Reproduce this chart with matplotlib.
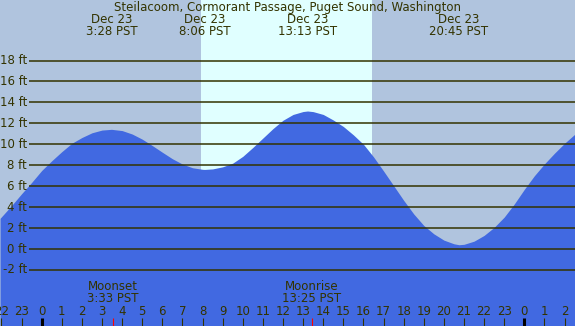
# -*- coding: utf-8 -*-
"""
Tide chart: Steilacoom, Cormorant Passage
"""

import matplotlib.pyplot as plt
import numpy as np

plt.rcParams['font.family'] = ['DejaVu Sans']

# ========== data ==========
title = 'Steilacoom, Cormorant Passage, Puget Sound, Washington'

# tide height (ft) vs hour of Dec 23 (negative = Dec 22, >24 = Dec 24)
tide_hours = [-2.07, -2.0, -1.5, -1.0, -0.5, 0.0, 0.5, 1.0, 1.5, 2.0, 2.5, 3.0,
              3.47, 4.0, 4.5, 5.0, 5.5, 6.0, 6.5, 7.0, 7.5, 8.0, 8.1, 8.5,
              9.0, 9.5, 10.0, 10.5, 11.0, 11.5, 12.0, 12.5, 13.0, 13.22, 13.5,
              14.0, 14.5, 15.0, 15.5, 16.0, 16.5, 17.0, 17.5, 18.0, 18.5, 19.0,
              19.5, 20.0, 20.5, 20.75, 21.0, 21.5, 22.0, 22.5, 23.0, 23.5,
              24.0, 24.5, 25.0, 25.5, 26.0, 26.52]
tide_ft = [2.93, 3.08, 4.15, 5.28, 6.36, 7.5, 8.43, 9.3, 10.1, 10.65, 11.1, 11.36,
           11.43, 11.31, 10.98, 10.49, 9.88, 9.24, 8.62, 8.11, 7.76, 7.61, 7.6, 7.65,
           7.85, 8.2, 8.85, 9.7, 10.6, 11.5, 12.3, 12.85, 13.13, 13.18, 13.12,
           12.85, 12.32, 11.7, 10.9, 10.0, 8.8, 7.45, 6.05, 4.65, 3.35, 2.25,
           1.45, 0.85, 0.5, 0.41, 0.45, 0.75, 1.3, 2.07, 3.05, 4.3,
           5.7, 7.0, 8.13, 9.15, 10.1, 10.98]

# high / low tide labels on top
tide_event_dates = ['Dec 23', 'Dec 23', 'Dec 23', 'Dec 23']
tide_event_times = ['3:28', '8:06', '13:13', '20:45']

# moon events at the bottom
moon_event_names = ['Moonset', 'Moonrise']
moon_event_times = ['3:33', '13:25']

# daylight
sunrise = '7:55'
sunset = '16:25'

ft_levels = [-2, 0, 2, 4, 6, 8, 10, 12, 14, 16, 18]
hour_ticks = list(range(-2, 27))


def to_hours(s):
    h, m = s.split(':')
    return int(h) + int(m) / 60.0


# ========== style ==========
bg_night = '#b0c4de'
bg_day = '#e0ffff'
water = '#4169e1'
ink = '#333300'
fs = 8.5

fig = plt.figure(figsize=(5.75, 3.26), dpi=100)
fig.patch.set_facecolor(bg_night)
ax = fig.add_axes([0, 0, 1, 1])
ax.set_facecolor(bg_night)

x_min, x_max = -2.074, 26.52
y_min, y_max = -7.35, 23.78
ax.set_xlim(x_min, x_max)
ax.set_ylim(y_min, y_max)

# daylight band
ax.axvspan(to_hours(sunrise), to_hours(sunset), color=bg_day, lw=0, zorder=1)

# water
ax.fill_between(tide_hours, tide_ft, y_min, color=water, lw=0, zorder=2)

# height grid + labels
yt = ax.get_yaxis_transform()
ax.hlines(ft_levels, 0.051, 1.0, transform=yt, color=ink, lw=1.1, zorder=3)
for lv in ft_levels:
    ax.text(0.047, lv, f'{lv} ft', transform=yt, ha='right', va='center',
            fontsize=fs, color=ink, zorder=4)

# title + tide event labels
xt = ax.get_xaxis_transform()
ax.text(0.5 * (x_min + x_max), 0.978, title, transform=xt, ha='center', va='center',
        fontsize=fs, color=ink)
for d, t in zip(tide_event_dates, tide_event_times):
    x = to_hours(t)
    ax.text(x, 0.939, d, transform=xt, ha='center', va='center', fontsize=fs, color=ink)
    ax.text(x, 0.902, f'{t} PST', transform=xt, ha='center', va='center',
            fontsize=fs, color=ink)

# moon events
for name, t in zip(moon_event_names, moon_event_times):
    x = to_hours(t)
    ax.text(x, 0.12, name, transform=xt, ha='center', va='center', fontsize=fs, color=ink)
    ax.text(x, 0.083, f'{t} PST', transform=xt, ha='center', va='center',
            fontsize=fs, color=ink)
    ax.vlines(x, 0, 0.0245, transform=xt, color='red', lw=0.8, zorder=5)

# hour ticks
for h in hour_ticks:
    midnight = (h % 24 == 0)
    ax.vlines(h, 0, 0.0245, transform=xt, color='black' if midnight else ink,
              lw=2.2 if midnight else 0.8, zorder=5)
    ax.text(h, 0.043, str(h % 24), transform=xt, ha='center', va='center',
            fontsize=fs, color=ink, zorder=5)

ax.set_xticks([])
ax.set_yticks([])
for s in ax.spines.values():
    s.set_visible(False)

plt.savefig('out.png', dpi=100, facecolor=bg_night)
plt.close()
